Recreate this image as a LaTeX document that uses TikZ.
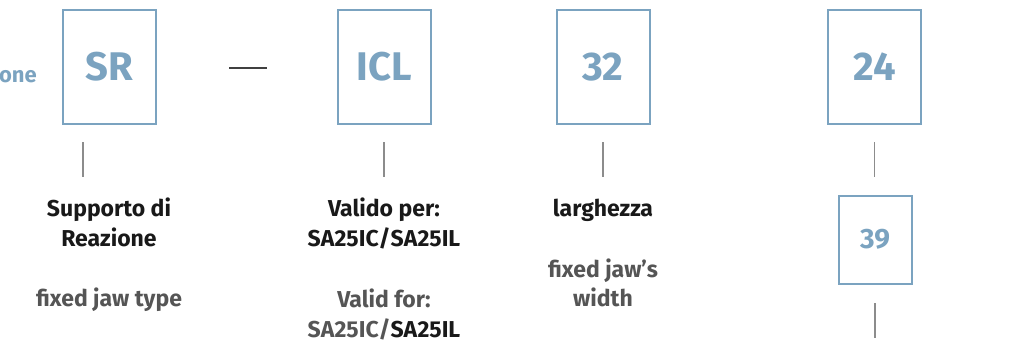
\documentclass[tikz,border=0pt]{standalone}
\usepackage{fontspec}
\setmainfont{Fira Sans}
\usepackage{xcolor}
\usetikzlibrary{positioning}
\definecolor{codeblue}{HTML}{7BA3C0}
\definecolor{textgrey}{HTML}{555555}
\definecolor{tickgrey}{HTML}{8C8C8C}
\tikzset{
  codebox/.style={draw=codeblue, line width=2pt, text=codeblue, minimum width=93pt, minimum height=113pt, inner sep=0pt, font=\fontsize{40}{40}\selectfont\bfseries},
  subbox/.style={codebox, minimum width=73pt, minimum height=88pt, font=\fontsize{28}{28}\selectfont\bfseries},
  tick/.style={draw=tickgrey, line width=1.2pt},
  lbl/.style={anchor=base, inner sep=0pt, text=black!90, font=\fontsize{23}{23}\selectfont\bfseries},
  eng/.style={lbl, text=textgrey}
}
\begin{document}
\begin{tikzpicture}[x=1pt, y=-1pt]
  \useasboundingbox (0,0) rectangle (1028,345);
  % code fields
  \node[codebox] (sr)  at (109,67)  {SR};
  \node[codebox] (icl) at (384,67)  {ICL};
  \node[codebox] (wid) at (603,67)  {32};
  \node[codebox] (len) at (874.5,67) {24};
  \node[subbox]  (sub) at (875,239.5) {39};
  \node[anchor=base east, inner sep=0pt, text=codeblue, font=\fontsize{22}{22}\selectfont\bfseries] (head) at (37,82) {one};
  % separator dash
  \coordinate (d1) at (229,68);
  \coordinate (d2) at (267,68);
  \draw[draw=black!75, line width=1.2pt] (d1) -- (d2);
  % ticks
  \foreach \n/\x/\ya/\yb in {t1/83/142/177, t2/384/142/177, t3/603/142/177, t4/874.5/142/177, t5/875/303/338}{
    \coordinate (\n a) at (\x,\ya);
    \coordinate (\n b) at (\x,\yb);
    \draw[tick] (\n a) -- (\n b);
  }
  % labels
  \node[lbl] (sr1) at (109,216) {Supporto di};
  \node[lbl] (sr2) at (109,246) {Reazione};
  \node[eng] (sr3) at (109,306) {fixed jaw type};
  \node[lbl] (icl1) at (384,216) {Valido per:};
  \node[lbl] (icl2) at (384,246) {SA25IC/SA25IL};
  \node[eng] (icl3) at (384,307) {Valid for:};
  \node[eng] (icl4) at (384,337) {SA25IC/\textcolor{black!90}{SA25IL}};
  \node[lbl] (wid1) at (603,216) {larghezza};
  \node[eng] (wid2) at (603,277) {fixed jaw’s};
  \node[eng] (wid3) at (603,306) {width};
\end{tikzpicture}
\end{document}
